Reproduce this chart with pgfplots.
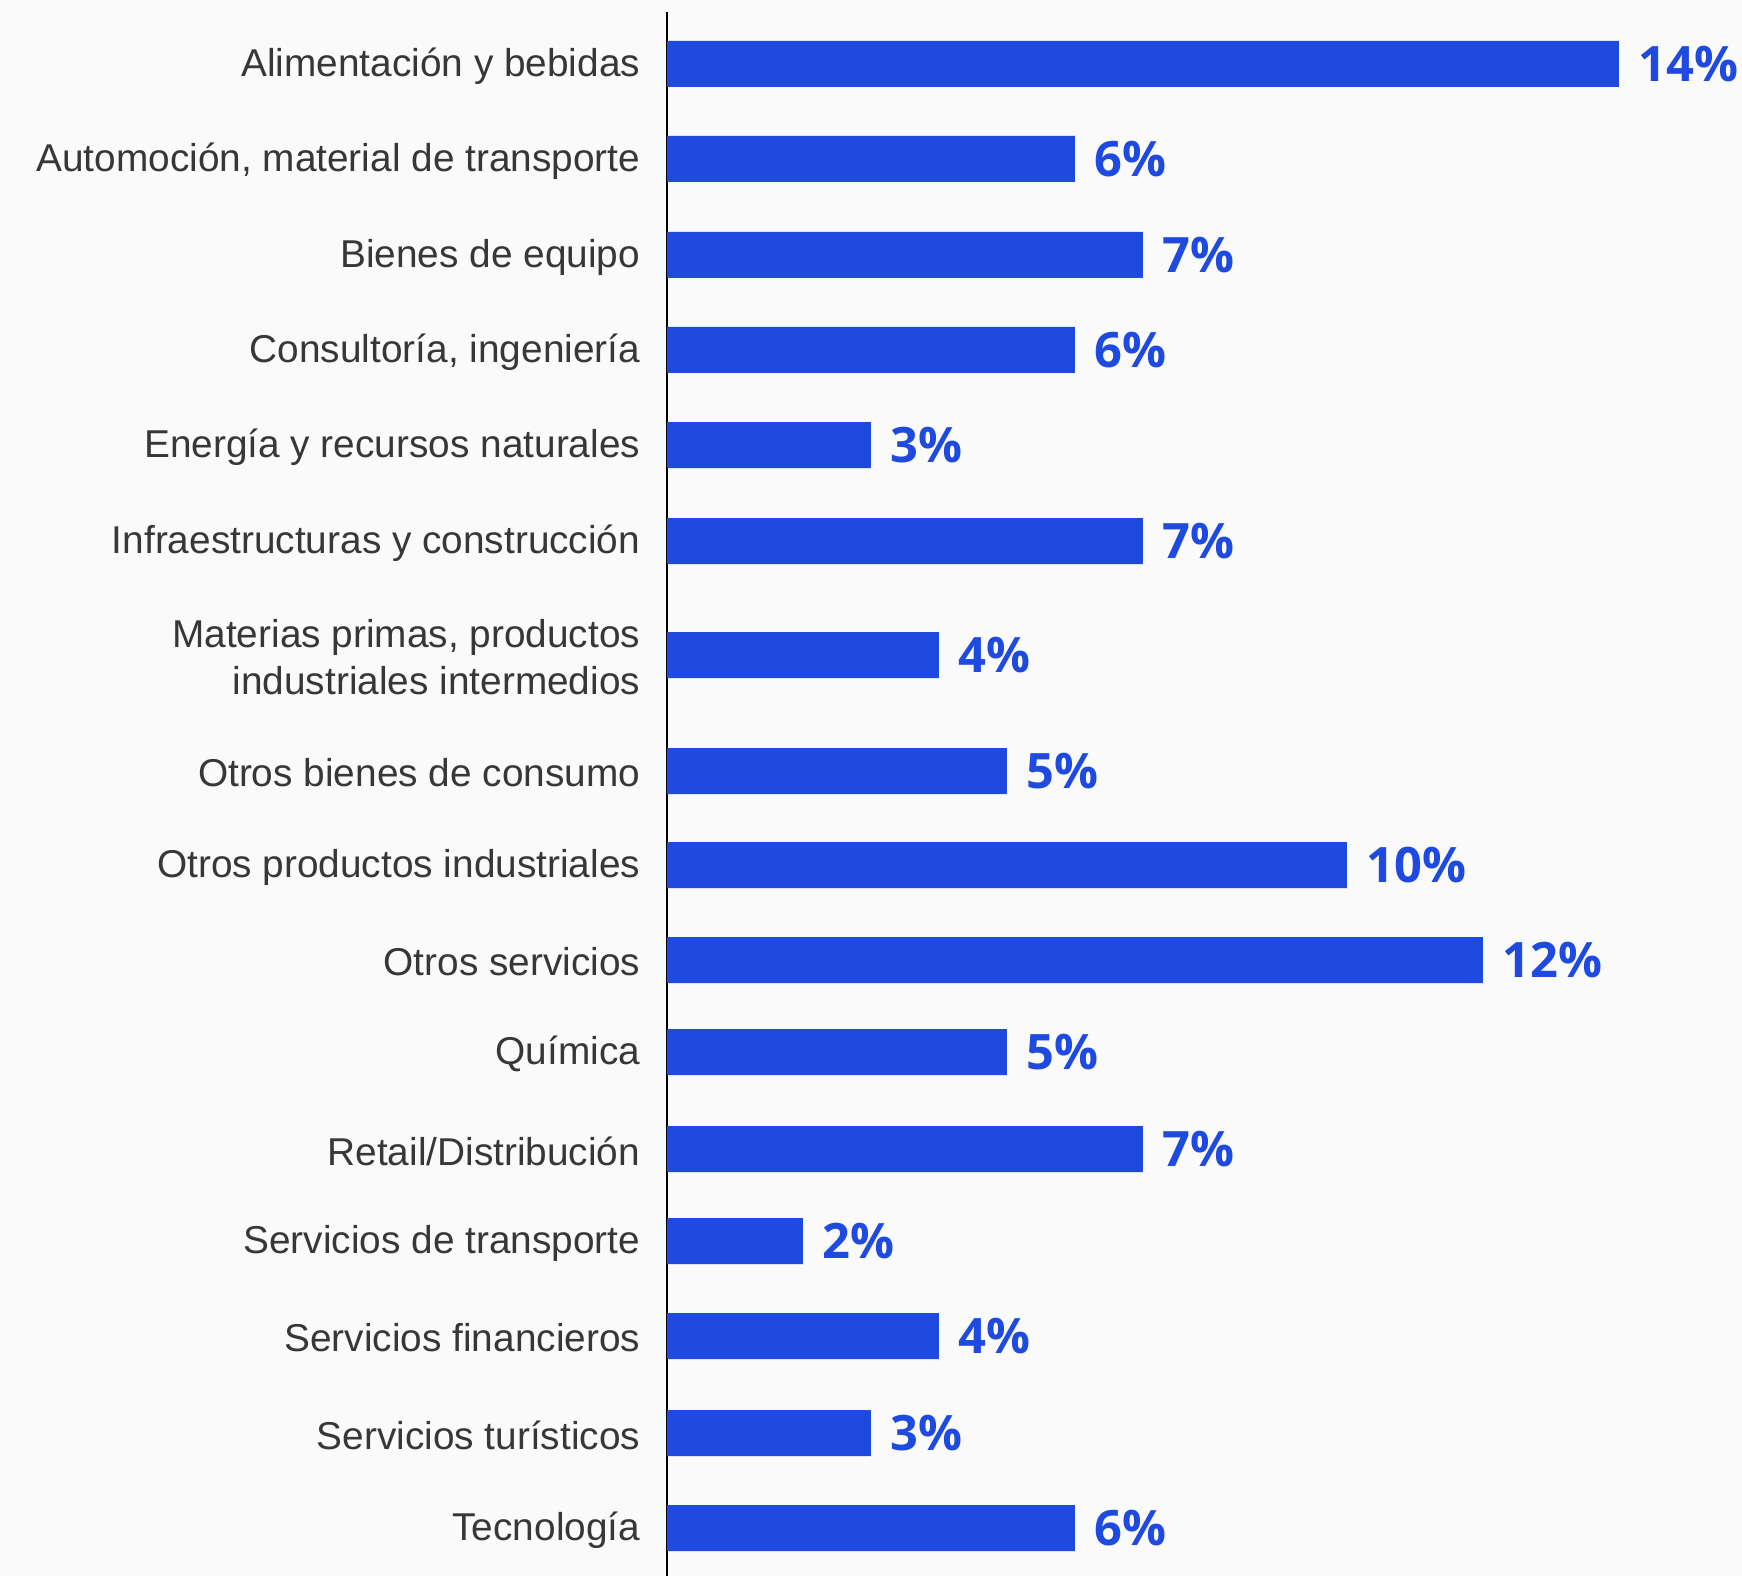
\documentclass[border=0pt]{standalone}
\usepackage{pgfplots}
\pgfplotsset{compat=1.18}
\usepackage{fontspec}
\setmainfont{Liberation Sans}
\newfontfamily\pctfont{Open Sans}
\definecolor{barblue}{RGB}{31,74,224}
\definecolor{bgc}{RGB}{250,250,250}
\definecolor{txt}{RGB}{55,55,55}
\begin{document}
\begin{tikzpicture}
\fill[bgc] (0,0) rectangle (435.5pt,394pt);
\begin{axis}[
  at={(166.75pt,0pt)}, anchor=south west,
  scale only axis,
  width=268.75pt, height=391pt,
  xmin=0, xmax=15.81,
  ymin=12, ymax=1576,
  y dir=reverse,
  axis x line=none,
  axis y line=left,
  y axis line style={-, black, line width=0.65pt},
  xbar, bar width=46,
  ytick={64,159,255,350,445,541,655,771,865,960,1052,1149,1241,1336,1433,1528},
  yticklabels={Alimentación y bebidas,{Automoción, material de transporte},Bienes de equipo,{Consultoría, ingeniería},Energía y recursos naturales,Infraestructuras y construcción,{Materias primas, productos\\industriales intermedios},Otros bienes de consumo,Otros productos industriales,Otros servicios,Química,Retail/Distribución,Servicios de transporte,Servicios financieros,Servicios turísticos,Tecnología},
  major tick length=0pt,
  yticklabel style={align=right, anchor=east, inner sep=0pt, xshift=-6.5pt, yshift=-0.5pt, text=txt, font=\fontsize{9.7}{11.6}\selectfont},
  /pgf/number format/assume math mode=true,
  nodes near coords={\pgfmathprintnumber{\pgfplotspointmeta}\%},
  point meta=x,
  every node near coord/.append style={anchor=west, inner sep=0pt, xshift=4.75pt, text=barblue, font=\pctfont\bfseries\fontsize{12.2}{14}\selectfont},
  clip=false,
]
\addplot[fill=barblue, draw=none] coordinates {
(14,64) (6,159) (7,255) (6,350) (3,445) (7,541) (4,655) (5,771) (10,865) (12,960) (5,1052) (7,1149) (2,1241) (4,1336) (3,1433) (6,1528)
};
\end{axis}
\end{tikzpicture}
\end{document}
